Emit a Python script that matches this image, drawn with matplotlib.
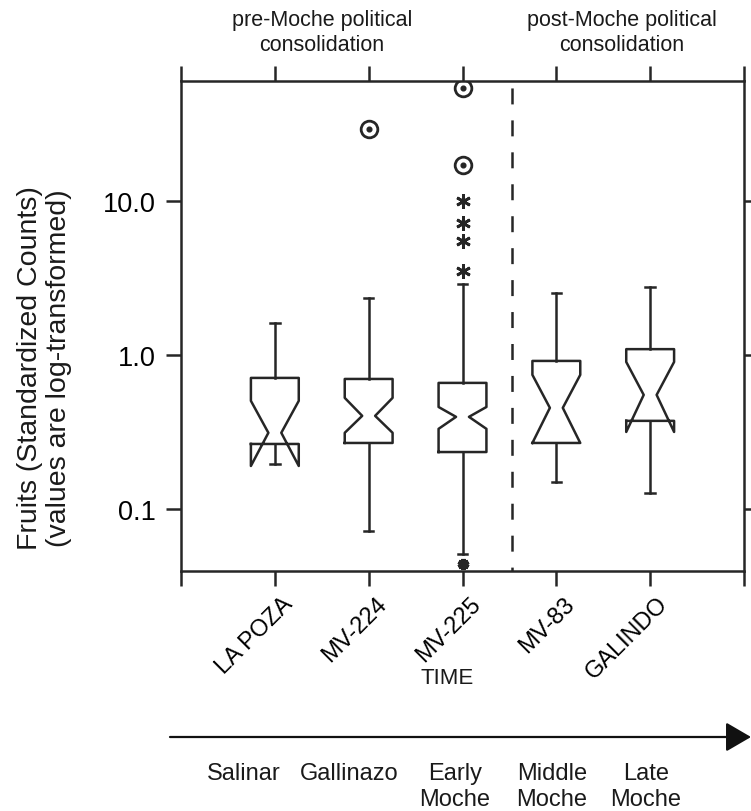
import matplotlib
matplotlib.use("Agg")
import matplotlib.pyplot as plt
from matplotlib.transforms import ScaledTranslation
import numpy as np

plt.rcParams['font.family'] = ['Liberation Sans', 'DejaVu Sans']
plt.rcParams['lines.scale_dashes'] = False

# ---- data ----
sites = ["LA POZA", "MV-224", "MV-225", "MV-83", "GALINDO"]
whishi = [1.61, 2.35, 2.89, 2.53, 2.76]
q3 = [0.709, 0.698, 0.658, 0.914, 1.09]
cihi = [0.503, 0.526, 0.459, 0.742, 0.90]
med = [0.312, 0.402, 0.396, 0.453, 0.55]
cilo = [0.19, 0.312, 0.331, 0.268, 0.316]
q1 = [0.264, 0.268, 0.234, 0.268, 0.373]
whislo = [0.196, 0.072, 0.051, 0.150, 0.127]

circle_site = [2, 3, 3]
circle_val = [29.4, 54.2, 17.1]
star_site = [3, 3, 3, 3]
star_val = [10.0, 7.2, 5.5, 3.5]
low_site = [3]
low_val = [0.044]

yticks = [0.1, 1.0, 10.0]
yticklabels = ["0.1", "1.0", "10.0"]
divider_x = 3.53
periods = ["Salinar", "Gallinazo", "Early\nMoche", "Middle\nMoche", "Late\nMoche"]
period_x_px = [244, 349, 455, 552, 646]

W, H = 751, 812
fig = plt.figure(figsize=(W / 100, H / 100), dpi=100)
ax = fig.add_axes([181 / W, 1 - 572 / H, (744 - 181) / W, (572 - 82) / H])

col = '#262626'
txtcol = '#1a1a1a'
lw = 1.8
width = 0.51
positions = np.arange(1, len(sites) + 1)

stats = []
for i in range(len(sites)):
    stats.append(dict(med=med[i], q1=q1[i], q3=q3[i], cilo=cilo[i], cihi=cihi[i],
                      whislo=whislo[i], whishi=whishi[i], fliers=[]))

res = ax.bxp(stats, positions=positions, widths=width, shownotches=True,
             showfliers=False, capwidths=0.1,
             boxprops=dict(color=col, linewidth=lw),
             whiskerprops=dict(color=col, linewidth=lw),
             capprops=dict(color=col, linewidth=lw),
             medianprops=dict(visible=False))

# narrower notch than default
for i, box in enumerate(res['boxes']):
    xd = np.array(box.get_xdata(), dtype=float)
    p = positions[i]
    xd[3] = p + width * 0.135
    xd[8] = p - width * 0.135
    box.set_xdata(xd)

ax.set_yscale('log')
ax.set_ylim(0.0395, 60.1)
ax.set_xlim(0, 6)

# outliers
ax.plot(circle_site, circle_val, linestyle='none', marker='o', ms=12, mfc='none',
        mec=col, mew=2.0)
ax.plot(circle_site, circle_val, linestyle='none', marker='o', ms=3.4, mfc=col,
        mec=col)
ax.plot(star_site, star_val, linestyle='none', marker=(6, 2, 0), ms=10.5, mec=col,
        mew=2.0)
ax.plot(low_site, low_val, linestyle='none', marker=(6, 2, 0), ms=8, mec=col,
        mew=3.2, clip_on=False)

# dashed divider
ax.plot([divider_x, divider_x], [1, 0], transform=ax.get_xaxis_transform(),
        color=col, linewidth=1.8, linestyle=(18, (11.5, 11.5)))

# ticks
ax.set_yticks(yticks)
ax.set_yticklabels(yticklabels)
ax.yaxis.set_minor_locator(matplotlib.ticker.NullLocator())
ax.set_xticks(positions)
ax.set_xticks([0, 6], minor=True)
ax.set_xticklabels(sites, rotation=45, rotation_mode='anchor', ha='right', va='top',
                   fontsize=17)
ax.tick_params(axis='x', which='both', direction='out', top=True, bottom=True,
               length=11, width=1.8, color=col, pad=6)
ax.tick_params(axis='y', which='both', direction='out', left=True, right=True,
               length=11, width=1.8, color=col, labelsize=19.5, pad=7)
shift = ScaledTranslation(7 / 100, 2 / 100, fig.dpi_scale_trans)
for t in ax.get_xticklabels():
    t.set_transform(t.get_transform() + shift)
for s in ax.spines.values():
    s.set_linewidth(1.8)
    s.set_color(col)

# y label
fig.text(45 / W, 1 - 368 / H, "Fruits (Standardized Counts)\n(values are log-transformed)",
         rotation=90, ha='center', va='center', multialignment='center',
         fontsize=20.5, color=txtcol, linespacing=1.15)

# top annotations
fig.text(322 / W, 1 - 33 / H, "pre-Moche political\nconsolidation", ha='center',
         va='center', fontsize=15.5, color=txtcol, linespacing=1.2)
fig.text(622 / W, 1 - 33 / H, "post-Moche political\nconsolidation", ha='center',
         va='center', fontsize=15.5, color=txtcol, linespacing=1.2)

# time axis
fig.text(447 / W, 1 - 679 / H, "TIME", ha='center', va='center', fontsize=16,
         color=txtcol)
fig.patches.append(matplotlib.patches.FancyArrowPatch(
    (170 / W, 1 - 738 / H), (1.0, 1 - 738 / H), transform=fig.transFigure,
    arrowstyle='-|>,head_length=0.6,head_width=0.35', mutation_scale=26,
    color='#111111', linewidth=1.6, shrinkA=0, shrinkB=0))
for lab, px in zip(periods, period_x_px):
    fig.text(px / W, 1 - 763 / H, lab, ha='center', va='top', fontsize=17,
             color=txtcol, linespacing=1.25)

fig.savefig("out.png", dpi=100)
